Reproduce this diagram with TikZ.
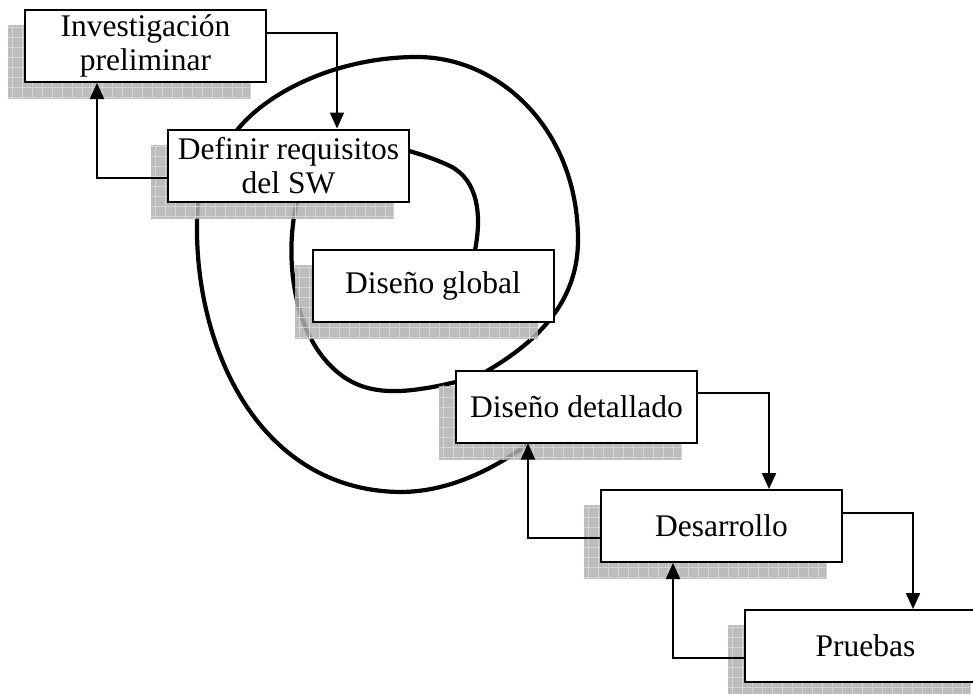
\documentclass[tikz,border=0pt]{standalone}
\usepackage{fontspec}
\setmainfont{Liberation Serif}
\usetikzlibrary{arrows.meta}
\pgfdeclarelayer{spiral}
\pgfdeclarelayer{shade}
\pgfsetlayers{spiral,shade,main}

% hatched drop shadow to the lower left of a stage box
\newcommand\stageshade[1]{%
  \begin{scope}[opacity=0.85]
    \clip ([shift={(-16.5,16)}]#1.north west) rectangle ([shift={(-16.5,16)}]#1.south east);
    \fill[shadefill] ([shift={(-16.5,16)}]#1.north west) rectangle ([shift={(-16.5,16)}]#1.south east);
    \foreach \k in {0,...,25}
      \draw[shadegrid] ([shift={({\k*10-12},-10)}]#1.north west) -- ++(0,110);
    \foreach \k in {0,...,10}
      \draw[shadegrid] ([shift={(-30,{\k*10+18})}]#1.north west) -- ++(280,0);
  \end{scope}}

\begin{document}
\begin{tikzpicture}[x=1pt,y=-1pt,
  stage/.style={draw,line width=2pt,fill=white,minimum width=241pt,minimum height=72pt,
    inner sep=0pt,align=center,font=\fontsize{31.5}{34}\selectfont},
  flow/.style={line width=2pt,-{Triangle[length=16pt,width=14pt]}},
  coil/.style={line width=4.2pt,line cap=round},
  shadefill/.style={fill=gray!62},
  shadegrid/.style={draw=gray!30,line width=0.8pt}
]
\useasboundingbox (0,0) rectangle (973,693);
\clip (0,0) rectangle (973,693);

% stages
\node[stage] (inv) at (145.5,46)  {Investigación\\preliminar};
\node[stage] (def) at (288.5,165.5) {Definir requisitos\\del SW};
\node[stage] (glo) at (433,286)   {Diseño global};
\node[stage] (det) at (576.5,406.5) {Diseño detallado};
\node[stage] (des) at (721.5,526) {Desarrollo};
\node[stage] (pru) at (865.5,646) {Pruebas};

% shadows
\begin{pgfonlayer}{shade}
  \stageshade{inv}
  \stageshade{def}
  \stageshade{glo}
  \stageshade{det}
  \stageshade{des}
  \stageshade{pru}
\end{pgfonlayer}

% spiral winding out from the global design stage
\begin{pgfonlayer}{spiral}
  \draw[coil] (473,280) .. controls (474,265) and (473,258) .. (475,250)
    .. controls (482,215) and (478,180) .. (450,166)
    .. controls (435,159) and (420,154) .. (409,151)
    .. controls (360,140) and (302,170) .. (297,202)
    .. controls (285,250) and (290,330) .. (335,370)
    .. controls (355,388) and (380,395) .. (420,389)
    .. controls (435,387) and (447,384) .. (456,382)
    .. controls (470,379) and (480,375) .. (487,371)
    .. controls (540,340) and (578,300) .. (578,240)
    .. controls (578,130) and (500,57) .. (417,57)
    .. controls (340,57) and (270,90) .. (238,129)
    .. controls (215,157) and (200,180) .. (198,202)
    .. controls (188,330) and (250,490) .. (400,492)
    .. controls (450,492) and (495,468) .. (528,444);
\end{pgfonlayer}

% forward steps
\draw[flow] ([yshift=13pt]inv.east) -| ([xshift=48.5pt]def.north);
\draw[flow] ([yshift=13.5pt]det.east) -| ([xshift=47.5pt]des.north);
\draw[flow] ([yshift=13pt]des.east) -| ([xshift=47.5pt]pru.north);

% feedback steps
\draw[flow] ([yshift=-12.5pt]def.west) -| ([xshift=-48.5pt]inv.south);
\draw[flow] ([yshift=-12pt]des.west) -| ([xshift=-48.5pt]det.south);
\draw[flow] ([yshift=-12pt]pru.west) -| ([xshift=-48.5pt]des.south);
\end{tikzpicture}
\end{document}
